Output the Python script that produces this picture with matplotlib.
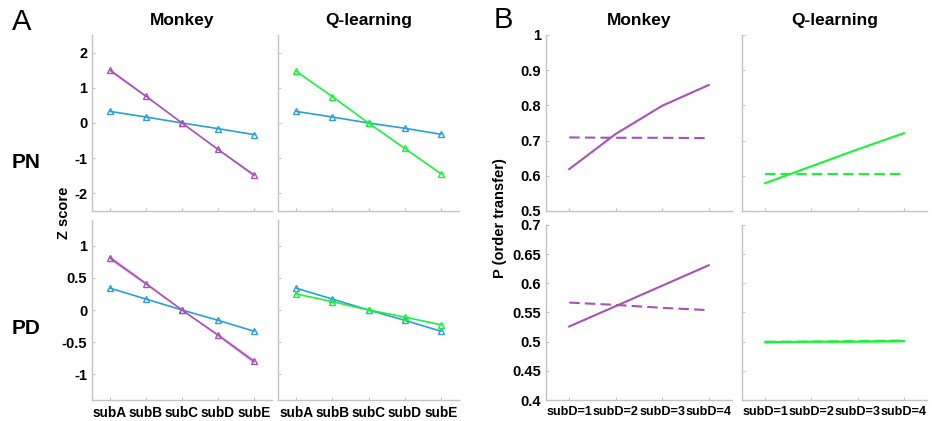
import numpy as np
import matplotlib
matplotlib.use("Agg")
from matplotlib import pyplot as plt

plt.rcParams['font.family'] = ['Liberation Sans', 'DejaVu Sans']

# panel A data
subs = ["subA", "subB", "subC", "subD", "subE"]
pn_monkey_purple = [1.50, 0.76, 0.00, -0.75, -1.48]
pn_monkey_blue = [0.33, 0.17, 0.00, -0.16, -0.33]
pn_q_green = [1.47, 0.75, 0.00, -0.72, -1.44]
pn_q_blue = [0.33, 0.17, 0.00, -0.15, -0.32]
pd_monkey_purple = [0.81, 0.41, 0.00, -0.39, -0.80]
pd_monkey_blue = [0.34, 0.17, 0.00, -0.16, -0.33]
pd_q_green = [0.25, 0.13, 0.00, -0.11, -0.23]
pd_q_blue = [0.34, 0.17, 0.00, -0.16, -0.33]
pn_band = 0.04
pd_band = 0.03

# panel B data
subd = ["subD=1", "subD=2", "subD=3", "subD=4"]
pn_m_solid = [0.619, 0.719, 0.799, 0.858]
pn_m_dash = [0.709, 0.708, 0.708, 0.707]
pn_q_solid = [0.579, 0.627, 0.675, 0.721]
pn_q_dash = [0.604, 0.604, 0.604, 0.604]
pd_m_solid = [0.526, 0.561, 0.596, 0.631]
pd_m_dash = [0.567, 0.563, 0.558, 0.554]
pd_q_solid = [0.499, 0.500, 0.500, 0.501]
pd_q_dash = [0.500, 0.500, 0.501, 0.502]

purple = "#a752b5"
blue = "#2a9fd8"
green = "#1cf23a"
spine_c = "#c4c4c4"

W, H = 937, 421
fig = plt.figure(figsize=(W / 100, H / 100), dpi=100)


def box(l, r, t, b):
    return [l / W, 1 - b / H, (r - l) / W, (b - t) / H]


def style(ax, xlabels=None, xsize=10):
    for s in ["top", "right"]:
        ax.spines[s].set_visible(False)
    for s in ["left", "bottom"]:
        ax.spines[s].set_color(spine_c)
        ax.spines[s].set_linewidth(1.0)
    ax.tick_params(direction="in", length=2, color=spine_c, labelsize=10.5)
    for lb in ax.get_yticklabels():
        lb.set_fontweight("bold")
    if xlabels is None:
        ax.tick_params(axis="x", labelbottom=False)
    else:
        ax.set_xticklabels(xlabels, fontweight="bold", fontsize=xsize)
    ax.tick_params(axis="x", pad=4)


x5 = np.arange(1, 6)
x4 = np.arange(1, 5)

a_cols = [(92, 272), (278, 459)]
a_rows = [(35, 211), (220, 400)]
b_cols = [(546, 732), (742, 927)]
b_rows = [(35, 211), (225, 400)]

a_data = [
    [(pn_monkey_purple, pn_monkey_blue, purple, pn_band), (pn_q_green, pn_q_blue, green, 0)],
    [(pd_monkey_purple, pd_monkey_blue, purple, pd_band), (pd_q_green, pd_q_blue, green, 0)],
]
a_ylims = [(-2.5, 2.5), (-1.4, 1.4)]
a_yticks = [[-2, -1, 0, 1, 2], [-1, -0.5, 0, 0.5, 1]]

for i in range(2):
    for j in range(2):
        ax = fig.add_axes(box(a_cols[j][0], a_cols[j][1], a_rows[i][0], a_rows[i][1]))
        main, bl, c, band = a_data[i][j]
        main = np.array(main)
        if band > 0:
            spread = band * np.abs(main) / np.abs(main).max() + 0.008
            ax.fill_between(x5, main - spread, main + spread,
                            color=c, alpha=0.35, lw=0)
        ax.plot(x5, bl, color=blue, lw=1.2, marker="^", ms=5, mfc="none", mew=1)
        ax.plot(x5, main, color=c, lw=1.2, marker="^", ms=5, mfc="none", mew=1)
        ax.set_xlim(0.5, 5.5)
        ax.set_ylim(*a_ylims[i])
        ax.set_xticks(x5)
        ax.set_yticks(a_yticks[i])
        if j == 0:
            ax.set_yticklabels([f"{v:g}" for v in a_yticks[i]])
        else:
            ax.tick_params(axis="y", labelleft=False)
        style(ax, subs if i == 1 else None, 9.8)

b_data = [
    [(pn_m_solid, pn_m_dash, purple), (pn_q_solid, pn_q_dash, green)],
    [(pd_m_solid, pd_m_dash, purple), (pd_q_solid, pd_q_dash, green)],
]
b_ylims = [(0.5, 1.0), (0.4, 0.7)]
b_yticks = [[0.5, 0.6, 0.7, 0.8, 0.9, 1.0], [0.4, 0.45, 0.5, 0.55, 0.6, 0.65, 0.7]]

for i in range(2):
    for j in range(2):
        ax = fig.add_axes(box(b_cols[j][0], b_cols[j][1], b_rows[i][0], b_rows[i][1]))
        solid, dash, c = b_data[i][j]
        if i == 1 and j == 1:
            ax.fill_between(x4, np.array(solid) - 0.002, np.array(dash) + 0.002,
                            color=c, alpha=0.3, lw=0)
        ax.plot(x4, dash, color=c, lw=1.5, ls=(0, (5, 2.5)))
        ax.plot(x4, solid, color=c, lw=1.5)
        ax.set_xlim(0.5, 4.5)
        ax.set_ylim(*b_ylims[i])
        ax.set_xticks(x4)
        ax.set_yticks(b_yticks[i])
        if j == 0:
            ax.set_yticklabels([f"{v:g}" for v in b_yticks[i]])
        else:
            ax.tick_params(axis="y", labelleft=False)
        style(ax, subd if i == 1 else None, 9.1)

# titles and labels
for (l, r), t in zip(a_cols + b_cols, ["Monkey", "Q-learning", "Monkey", "Q-learning"]):
    fig.text((l + r) / 2 / W, 1 - 20 / H, t, ha="center", va="center",
             fontsize=12.5, fontweight="bold")

fig.text(22 / W, 1 - 22 / H, "A", ha="center", va="center", fontsize=21)
fig.text(503 / W, 1 - 20 / H, "B", ha="center", va="center", fontsize=21)
fig.text(26 / W, 1 - 163 / H, "PN", ha="center", va="center", fontsize=15, fontweight="bold")
fig.text(26 / W, 1 - 328 / H, "PD", ha="center", va="center", fontsize=15, fontweight="bold")
fig.text(64 / W, 1 - 213 / H, "Z score", ha="center", va="center", rotation=90,
         fontsize=10.5, fontweight="bold")
fig.text(500 / W, 1 - 218 / H, "P (order transfer)", ha="center", va="center", rotation=90,
         fontsize=10.5, fontweight="bold")

fig.savefig("out.png", dpi=100)
